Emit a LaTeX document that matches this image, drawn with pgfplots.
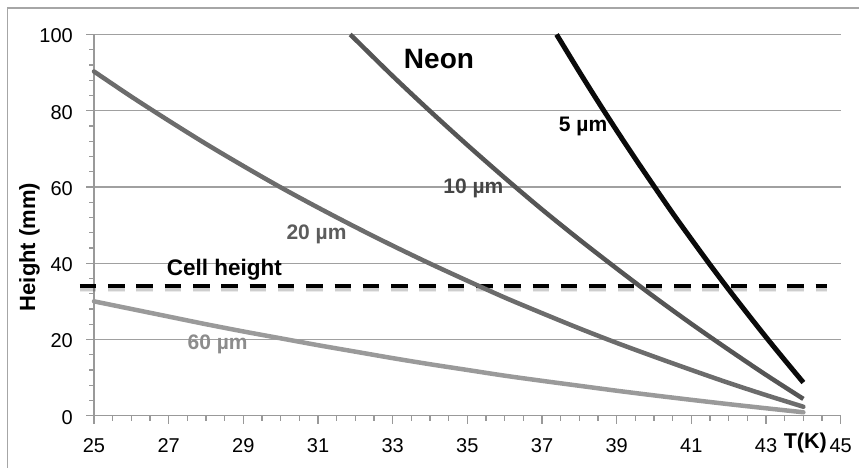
\documentclass[border=0pt]{standalone}
\usepackage{fontspec}
\setmainfont{Liberation Sans}
\usepackage{pgfplots}
\usepackage{pgfplotstable}
\pgfplotsset{compat=1.18}
\definecolor{framegray}{HTML}{A6A6A6}
\definecolor{axgray}{HTML}{999999}
\definecolor{gridgray}{HTML}{A0A0A0}
\definecolor{cfive}{HTML}{0A0A0A}
\definecolor{cten}{HTML}{555555}
\definecolor{ctwenty}{HTML}{6C6C6C}
\definecolor{csixty}{HTML}{9A9A9A}
\definecolor{lten}{HTML}{454545}
\definecolor{ltwenty}{HTML}{5C5C5C}
\definecolor{lsixty}{HTML}{8C8C8C}
\pgfplotstableread{
x y
25 30.0
26 28.0
27 26.0
28 24.0
29 22.1
30 20.3
31 18.5
32 16.8
33 15.1
34 13.5
35 12.0
36 10.5
37 9.15
38 7.85
39 6.55
40 5.33
41 4.16
42 3.03
43 1.95
44 0.9
}\sixty
\pgfplotstableread{
x y
25 90.3
26 83.7
27 77.4
28 71.3
29 65.5
30 59.9
31 54.6
32 49.5
33 44.6
34 39.9
35 35.4
36 31.0
37 26.9
38 22.9
39 19.1
40 15.5
41 12.0
42 8.6
43 5.4
44 2.35
}\twenty
\pgfplotstableread{
x y
31.86 100
32 98.7
33 89.1
34 79.9
35 71.0
36 62.4
37 54.1
38 46.2
39 38.6
40 31.2
41 24.1
42 17.3
43 10.7
44 4.4
}\ten
\pgfplotstableread{
x y
37.39 100
38 90.2
38.5 82.4
39 74.8
39.5 67.4
40 60.2
40.5 53.1
41 46.3
41.5 39.6
42 33.1
42.5 26.8
43 20.6
43.5 14.6
44 8.7
}\five
\begin{document}
\begin{tikzpicture}
\useasboundingbox (0,0) rectangle (859bp,468bp);
\draw[color=framegray, line width=1.5bp] (7.5bp,0) -- (7.5bp,460bp) -- (859bp,460bp);
\begin{axis}[
  at={(94bp,52.3bp)}, anchor=south west,
  scale only axis, width=746.7bp, height=381.2bp,
  xmin=25, xmax=45, ymin=0, ymax=100,
  xtick={25,27,...,45}, ytick={0,20,...,100},
  minor x tick num=3, minor y tick num=4,
  axis x line*=bottom, axis y line*=left,
  axis line style={color=axgray, line width=1.5bp, -},
  ymajorgrids, major grid style={color=gridgray, line width=1.2bp},
  tick style={color=axgray, line width=1.2bp},
  tick align=outside, major tick length=8bp, minor tick length=5bp,
  tick label style={font=\fontsize{20bp}{24bp}\selectfont, inner sep=0pt},
  xticklabel style={anchor=base, yshift=-29bp},
  yticklabel style={anchor=east, xshift=-13bp, yshift=-1.5bp},
  /pgf/number format/assume math mode=true,
  clip=false,
]
% soft shadow of the cell height line
\addplot[draw=black, opacity=0.08, line width=8bp, dash pattern=on 16.5bp off 11.8bp, line cap=butt] coordinates {(24.62,33.4) (44.64,33.4)};
\addplot[draw=black, opacity=0.12, line width=5bp, dash pattern=on 16.5bp off 11.8bp, line cap=butt] coordinates {(24.62,33.3) (44.64,33.3)};
\addplot[draw=black, line width=4bp, dash pattern=on 16.5bp off 11.8bp, line cap=butt] coordinates {(24.62,34.1) (44.64,34.1)};
\addplot[draw=csixty, line width=4.5bp, smooth, line cap=round] table[x=x,y=y] {\sixty};
\addplot[draw=ctwenty, line width=4.5bp, smooth, line cap=round] table[x=x,y=y] {\twenty};
\addplot[draw=cten, line width=4.5bp, smooth, line cap=butt] table[x=x,y=y] {\ten};
\addplot[draw=cfive, line width=5bp, smooth, line cap=butt] table[x=x,y=y] {\five};
\node[font=\bfseries\fontsize{28bp}{32bp}\selectfont, inner sep=0pt] at (axis cs:34.24,93.6) {Neon};
\node[font=\bfseries\fontsize{21bp}{24bp}\selectfont, inner sep=0pt, anchor=base, text=black] at (axis cs:38.1,74.5) {5 µm};
\node[font=\bfseries\fontsize{21bp}{24bp}\selectfont, inner sep=0pt, anchor=base, text=lten] at (axis cs:35.16,58.4) {10 µm};
\node[font=\bfseries\fontsize{21bp}{24bp}\selectfont, inner sep=0pt, anchor=base, text=ltwenty] at (axis cs:30.96,46.3) {20 µm};
\node[font=\bfseries\fontsize{21bp}{24bp}\selectfont, inner sep=0pt, anchor=base, text=lsixty] at (axis cs:28.31,17.4) {60 µm};
\node[font=\bfseries\fontsize{22.5bp}{26bp}\selectfont, inner sep=0pt, anchor=base, text=black] at (axis cs:28.49,36.7) {Cell height};
\node[font=\bfseries\fontsize{21.5bp}{24bp}\selectfont, inner sep=0pt, anchor=base, text=black] at (axis cs:44.05,-8.6) {T(K)};
\end{axis}
\node[rotate=90, anchor=base, inner sep=0pt, font=\bfseries\fontsize{22bp}{26bp}\selectfont] at (35bp,221bp) {Height (mm)};
\end{tikzpicture}
\end{document}
